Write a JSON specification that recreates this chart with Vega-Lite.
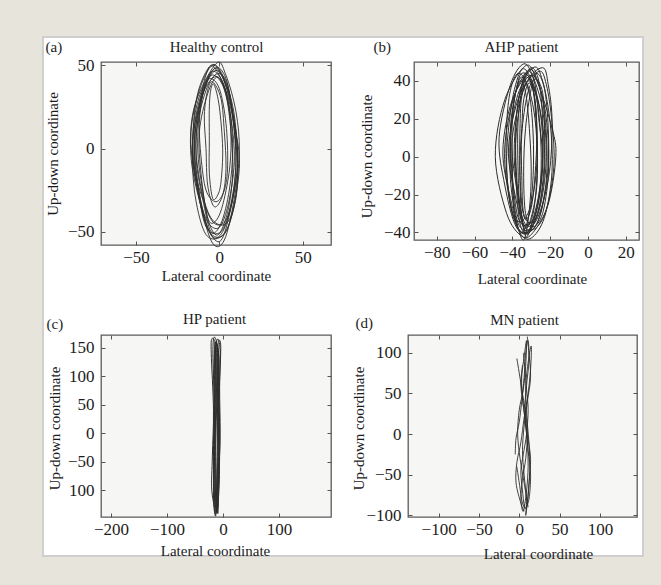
{
  "$schema": "https://vega.github.io/schema/vega-lite/v6.json",
  "background": "#e7e5db",
  "padding": {"left": 43, "top": 37, "right": 18, "bottom": 29},
  "datasets": {
    "a": [
      {"s":1,"i":0,"x":-4,"y":50},{"s":1,"i":1,"x":3,"y":40},{"s":1,"i":2,"x":9,"y":15},{"s":1,"i":3,"x":11,"y":-10},{"s":1,"i":4,"x":6,"y":-40},{"s":1,"i":5,"x":0,"y":-56},{"s":1,"i":6,"x":-8,"y":-45},{"s":1,"i":7,"x":-15,"y":-15},{"s":1,"i":8,"x":-17,"y":10},{"s":1,"i":9,"x":-12,"y":35},
      {"s":2,"i":0,"x":-2,"y":47},{"s":2,"i":1,"x":5,"y":35},{"s":2,"i":2,"x":10,"y":10},{"s":2,"i":3,"x":12,"y":-12},{"s":2,"i":4,"x":7,"y":-42},{"s":2,"i":5,"x":1,"y":-53},{"s":2,"i":6,"x":-7,"y":-48},{"s":2,"i":7,"x":-14,"y":-20},{"s":2,"i":8,"x":-16,"y":5},{"s":2,"i":9,"x":-10,"y":33},
      {"s":3,"i":0,"x":-5,"y":44},{"s":3,"i":1,"x":2,"y":38},{"s":3,"i":2,"x":7,"y":18},{"s":3,"i":3,"x":9,"y":-8},{"s":3,"i":4,"x":5,"y":-35},{"s":3,"i":5,"x":-1,"y":-48},{"s":3,"i":6,"x":-9,"y":-40},{"s":3,"i":7,"x":-14,"y":-12},{"s":3,"i":8,"x":-15,"y":12},{"s":3,"i":9,"x":-11,"y":32},
      {"s":4,"i":0,"x":-3,"y":48},{"s":4,"i":1,"x":4,"y":42},{"s":4,"i":2,"x":8,"y":20},{"s":4,"i":3,"x":10,"y":-5},{"s":4,"i":4,"x":8,"y":-30},{"s":4,"i":5,"x":2,"y":-50},{"s":4,"i":6,"x":-5,"y":-52},{"s":4,"i":7,"x":-12,"y":-28},{"s":4,"i":8,"x":-16,"y":0},{"s":4,"i":9,"x":-13,"y":28},
      {"s":5,"i":0,"x":-6,"y":42},{"s":5,"i":1,"x":0,"y":36},{"s":5,"i":2,"x":4,"y":15},{"s":5,"i":3,"x":5,"y":-10},{"s":5,"i":4,"x":3,"y":-25},{"s":5,"i":5,"x":-2,"y":-32},{"s":5,"i":6,"x":-8,"y":-25},{"s":5,"i":7,"x":-11,"y":-5},{"s":5,"i":8,"x":-12,"y":15},{"s":5,"i":9,"x":-10,"y":32},
      {"s":6,"i":0,"x":-1,"y":45},{"s":6,"i":1,"x":5,"y":38},{"s":6,"i":2,"x":9,"y":12},{"s":6,"i":3,"x":11,"y":-15},{"s":6,"i":4,"x":8,"y":-38},{"s":6,"i":5,"x":2,"y":-46},{"s":6,"i":6,"x":-6,"y":-40},{"s":6,"i":7,"x":-12,"y":-18},{"s":6,"i":8,"x":-14,"y":8},{"s":6,"i":9,"x":-8,"y":35},
      {"s":7,"i":0,"x":-4,"y":40},{"s":7,"i":1,"x":1,"y":30},{"s":7,"i":2,"x":3,"y":10},{"s":7,"i":3,"x":4,"y":-12},{"s":7,"i":4,"x":2,"y":-28},{"s":7,"i":5,"x":-3,"y":-35},{"s":7,"i":6,"x":-7,"y":-22},{"s":7,"i":7,"x":-8,"y":0},{"s":7,"i":8,"x":-9,"y":20},{"s":7,"i":9,"x":-7,"y":35},
      {"s":8,"i":0,"x":-2,"y":51},{"s":8,"i":1,"x":4,"y":44},{"s":8,"i":2,"x":10,"y":22},{"s":8,"i":3,"x":12,"y":-2},{"s":8,"i":4,"x":9,"y":-30},{"s":8,"i":5,"x":3,"y":-55},{"s":8,"i":6,"x":-4,"y":-57},{"s":8,"i":7,"x":-11,"y":-35},{"s":8,"i":8,"x":-17,"y":-5},{"s":8,"i":9,"x":-15,"y":25},
      {"s":9,"i":0,"x":-5,"y":46},{"s":9,"i":1,"x":2,"y":40},{"s":9,"i":2,"x":6,"y":22},{"s":9,"i":3,"x":7,"y":0},{"s":9,"i":4,"x":5,"y":-20},{"s":9,"i":5,"x":0,"y":-40},{"s":9,"i":6,"x":-6,"y":-44},{"s":9,"i":7,"x":-10,"y":-25},{"s":9,"i":8,"x":-13,"y":0},{"s":9,"i":9,"x":-11,"y":28},
      {"s":10,"i":0,"x":-3,"y":43},{"s":10,"i":1,"x":3,"y":37},{"s":10,"i":2,"x":8,"y":18},{"s":10,"i":3,"x":10,"y":-8},{"s":10,"i":4,"x":7,"y":-33},{"s":10,"i":5,"x":1,"y":-50},{"s":10,"i":6,"x":-8,"y":-47},{"s":10,"i":7,"x":-13,"y":-22},{"s":10,"i":8,"x":-15,"y":3},{"s":10,"i":9,"x":-11,"y":30},
      {"s":11,"i":0,"x":-6,"y":49},{"s":11,"i":1,"x":1,"y":42},{"s":11,"i":2,"x":6,"y":25},{"s":11,"i":3,"x":8,"y":0},{"s":11,"i":4,"x":6,"y":-25},{"s":11,"i":5,"x":1,"y":-45},{"s":11,"i":6,"x":-5,"y":-50},{"s":11,"i":7,"x":-10,"y":-30},{"s":11,"i":8,"x":-14,"y":-5},{"s":11,"i":9,"x":-12,"y":25},
      {"s":12,"i":0,"x":-1,"y":43},{"s":12,"i":1,"x":4,"y":32},{"s":12,"i":2,"x":7,"y":10},{"s":12,"i":3,"x":8,"y":-15},{"s":12,"i":4,"x":5,"y":-38},{"s":12,"i":5,"x":-1,"y":-52},{"s":12,"i":6,"x":-7,"y":-42},{"s":12,"i":7,"x":-11,"y":-15},{"s":12,"i":8,"x":-12,"y":10},{"s":12,"i":9,"x":-7,"y":33},
      {"s":13,"i":0,"x":-4,"y":47},{"s":13,"i":1,"x":3,"y":41},{"s":13,"i":2,"x":8,"y":22},{"s":13,"i":3,"x":11,"y":-3},{"s":13,"i":4,"x":9,"y":-25},{"s":13,"i":5,"x":4,"y":-43},{"s":13,"i":6,"x":-3,"y":-45},{"s":13,"i":7,"x":-9,"y":-33},{"s":13,"i":8,"x":-15,"y":-10},{"s":13,"i":9,"x":-13,"y":20},
      {"s":14,"i":0,"x":-3,"y":38},{"s":14,"i":1,"x":0,"y":25},{"s":14,"i":2,"x":2,"y":0},{"s":14,"i":3,"x":1,"y":-20},{"s":14,"i":4,"x":-1,"y":-28},{"s":14,"i":5,"x":-4,"y":-30},{"s":14,"i":6,"x":-6,"y":-15},{"s":14,"i":7,"x":-6,"y":5},{"s":14,"i":8,"x":-6,"y":25},{"s":14,"i":9,"x":-5,"y":36},
      {"s":15,"i":0,"x":-5,"y":50},{"s":15,"i":1,"x":2,"y":44},{"s":15,"i":2,"x":9,"y":20},{"s":15,"i":3,"x":11,"y":-20},{"s":15,"i":4,"x":6,"y":-45},{"s":15,"i":5,"x":-1,"y":-54},{"s":15,"i":6,"x":-9,"y":-50},{"s":15,"i":7,"x":-15,"y":-25},{"s":15,"i":8,"x":-16,"y":5},{"s":15,"i":9,"x":-13,"y":33}
    ],
    "b": [
      {"s":1,"i":0,"x":-33,"y":48},{"s":1,"i":1,"x":-27,"y":40},{"s":1,"i":2,"x":-19,"y":15},{"s":1,"i":3,"x":-17,"y":0},{"s":1,"i":4,"x":-21,"y":-25},{"s":1,"i":5,"x":-29,"y":-40},{"s":1,"i":6,"x":-35,"y":-42},{"s":1,"i":7,"x":-43,"y":-30},{"s":1,"i":8,"x":-49,"y":0},{"s":1,"i":9,"x":-44,"y":30},
      {"s":2,"i":0,"x":-31,"y":46},{"s":2,"i":1,"x":-26,"y":38},{"s":2,"i":2,"x":-22,"y":20},{"s":2,"i":3,"x":-21,"y":-5},{"s":2,"i":4,"x":-25,"y":-30},{"s":2,"i":5,"x":-31,"y":-40},{"s":2,"i":6,"x":-37,"y":-38},{"s":2,"i":7,"x":-42,"y":-20},{"s":2,"i":8,"x":-44,"y":5},{"s":2,"i":9,"x":-39,"y":32},
      {"s":3,"i":0,"x":-35,"y":44},{"s":3,"i":1,"x":-30,"y":40},{"s":3,"i":2,"x":-25,"y":22},{"s":3,"i":3,"x":-24,"y":-5},{"s":3,"i":4,"x":-27,"y":-28},{"s":3,"i":5,"x":-32,"y":-36},{"s":3,"i":6,"x":-37,"y":-32},{"s":3,"i":7,"x":-40,"y":-10},{"s":3,"i":8,"x":-41,"y":15},{"s":3,"i":9,"x":-38,"y":35},
      {"s":4,"i":0,"x":-29,"y":47},{"s":4,"i":1,"x":-24,"y":40},{"s":4,"i":2,"x":-20,"y":18},{"s":4,"i":3,"x":-19,"y":-8},{"s":4,"i":4,"x":-23,"y":-32},{"s":4,"i":5,"x":-30,"y":-43},{"s":4,"i":6,"x":-36,"y":-40},{"s":4,"i":7,"x":-41,"y":-22},{"s":4,"i":8,"x":-45,"y":3},{"s":4,"i":9,"x":-40,"y":30},
      {"s":5,"i":0,"x":-33,"y":42},{"s":5,"i":1,"x":-29,"y":36},{"s":5,"i":2,"x":-27,"y":15},{"s":5,"i":3,"x":-27,"y":-10},{"s":5,"i":4,"x":-29,"y":-30},{"s":5,"i":5,"x":-33,"y":-38},{"s":5,"i":6,"x":-36,"y":-30},{"s":5,"i":7,"x":-38,"y":-5},{"s":5,"i":8,"x":-38,"y":18},{"s":5,"i":9,"x":-36,"y":34},
      {"s":6,"i":0,"x":-26,"y":45},{"s":6,"i":1,"x":-22,"y":38},{"s":6,"i":2,"x":-19,"y":18},{"s":6,"i":3,"x":-18,"y":-5},{"s":6,"i":4,"x":-22,"y":-28},{"s":6,"i":5,"x":-28,"y":-38},{"s":6,"i":6,"x":-34,"y":-36},{"s":6,"i":7,"x":-39,"y":-18},{"s":6,"i":8,"x":-42,"y":5},{"s":6,"i":9,"x":-36,"y":33},
      {"s":7,"i":0,"x":-34,"y":49},{"s":7,"i":1,"x":-29,"y":42},{"s":7,"i":2,"x":-24,"y":25},{"s":7,"i":3,"x":-22,"y":0},{"s":7,"i":4,"x":-25,"y":-25},{"s":7,"i":5,"x":-31,"y":-39},{"s":7,"i":6,"x":-38,"y":-37},{"s":7,"i":7,"x":-44,"y":-15},{"s":7,"i":8,"x":-47,"y":10},{"s":7,"i":9,"x":-41,"y":38},
      {"s":8,"i":0,"x":-31,"y":40},{"s":8,"i":1,"x":-27,"y":30},{"s":8,"i":2,"x":-25,"y":10},{"s":8,"i":3,"x":-25,"y":-12},{"s":8,"i":4,"x":-28,"y":-32},{"s":8,"i":5,"x":-32,"y":-41},{"s":8,"i":6,"x":-35,"y":-32},{"s":8,"i":7,"x":-36,"y":-10},{"s":8,"i":8,"x":-36,"y":12},{"s":8,"i":9,"x":-35,"y":32},
      {"s":9,"i":0,"x":-37,"y":44},{"s":9,"i":1,"x":-32,"y":38},{"s":9,"i":2,"x":-28,"y":20},{"s":9,"i":3,"x":-27,"y":-3},{"s":9,"i":4,"x":-30,"y":-25},{"s":9,"i":5,"x":-35,"y":-34},{"s":9,"i":6,"x":-40,"y":-30},{"s":9,"i":7,"x":-43,"y":-8},{"s":9,"i":8,"x":-43,"y":17},{"s":9,"i":9,"x":-41,"y":35},
      {"s":10,"i":0,"x":-30,"y":43},{"s":10,"i":1,"x":-25,"y":35},{"s":10,"i":2,"x":-22,"y":12},{"s":10,"i":3,"x":-22,"y":-12},{"s":10,"i":4,"x":-26,"y":-33},{"s":10,"i":5,"x":-31,"y":-39},{"s":10,"i":6,"x":-37,"y":-35},{"s":10,"i":7,"x":-40,"y":-15},{"s":10,"i":8,"x":-41,"y":10},{"s":10,"i":9,"x":-37,"y":33},
      {"s":11,"i":0,"x":-32,"y":45},{"s":11,"i":1,"x":-28,"y":38},{"s":11,"i":2,"x":-26,"y":20},{"s":11,"i":3,"x":-24,"y":0},{"s":11,"i":4,"x":-26,"y":-20},{"s":11,"i":5,"x":-30,"y":-36},{"s":11,"i":6,"x":-33,"y":-42},{"s":11,"i":7,"x":-36,"y":-25},{"s":11,"i":8,"x":-39,"y":0},{"s":11,"i":9,"x":-37,"y":28},
      {"s":12,"i":0,"x":-28,"y":41},{"s":12,"i":1,"x":-24,"y":34},{"s":12,"i":2,"x":-23,"y":15},{"s":12,"i":3,"x":-23,"y":-8},{"s":12,"i":4,"x":-26,"y":-28},{"s":12,"i":5,"x":-30,"y":-35},{"s":12,"i":6,"x":-34,"y":-30},{"s":12,"i":7,"x":-35,"y":-10},{"s":12,"i":8,"x":-35,"y":12},{"s":12,"i":9,"x":-32,"y":33},
      {"s":13,"i":0,"x":-35,"y":46},{"s":13,"i":1,"x":-30,"y":41},{"s":13,"i":2,"x":-26,"y":28},{"s":13,"i":3,"x":-23,"y":5},{"s":13,"i":4,"x":-25,"y":-22},{"s":13,"i":5,"x":-30,"y":-38},{"s":13,"i":6,"x":-36,"y":-39},{"s":13,"i":7,"x":-41,"y":-25},{"s":13,"i":8,"x":-43,"y":0},{"s":13,"i":9,"x":-40,"y":30},
      {"s":14,"i":0,"x":-31,"y":39},{"s":14,"i":1,"x":-28,"y":30},{"s":14,"i":2,"x":-27,"y":12},{"s":14,"i":3,"x":-28,"y":-10},{"s":14,"i":4,"x":-30,"y":-27},{"s":14,"i":5,"x":-33,"y":-33},{"s":14,"i":6,"x":-35,"y":-25},{"s":14,"i":7,"x":-36,"y":-5},{"s":14,"i":8,"x":-35,"y":15},{"s":14,"i":9,"x":-34,"y":30},
      {"s":15,"i":0,"x":-24,"y":47},{"s":15,"i":1,"x":-21,"y":38},{"s":15,"i":2,"x":-19,"y":20},{"s":15,"i":3,"x":-20,"y":-5},{"s":15,"i":4,"x":-24,"y":-25},{"s":15,"i":5,"x":-29,"y":-36},{"s":15,"i":6,"x":-34,"y":-34},{"s":15,"i":7,"x":-38,"y":-15},{"s":15,"i":8,"x":-40,"y":10},{"s":15,"i":9,"x":-33,"y":38},
      {"s":16,"i":0,"x":-36,"y":40},{"s":16,"i":1,"x":-33,"y":34},{"s":16,"i":2,"x":-31,"y":15},{"s":16,"i":3,"x":-30,"y":-8},{"s":16,"i":4,"x":-31,"y":-28},{"s":16,"i":5,"x":-34,"y":-44},{"s":16,"i":6,"x":-38,"y":-33},{"s":16,"i":7,"x":-41,"y":-12},{"s":16,"i":8,"x":-41,"y":10},{"s":16,"i":9,"x":-39,"y":30},
      {"s":17,"i":0,"x":-33,"y":44},{"s":17,"i":1,"x":-29,"y":35},{"s":17,"i":2,"x":-27,"y":10},{"s":17,"i":3,"x":-27,"y":-15},{"s":17,"i":4,"x":-30,"y":-32},{"s":17,"i":5,"x":-33,"y":-37},{"s":17,"i":6,"x":-36,"y":-28},{"s":17,"i":7,"x":-37,"y":-5},{"s":17,"i":8,"x":-37,"y":18},{"s":17,"i":9,"x":-35,"y":36},
      {"s":18,"i":0,"x":-30,"y":47},{"s":18,"i":1,"x":-26,"y":40},{"s":18,"i":2,"x":-24,"y":20},{"s":18,"i":3,"x":-24,"y":-5},{"s":18,"i":4,"x":-27,"y":-27},{"s":18,"i":5,"x":-32,"y":-40},{"s":18,"i":6,"x":-36,"y":-35},{"s":18,"i":7,"x":-38,"y":-12},{"s":18,"i":8,"x":-38,"y":12},{"s":18,"i":9,"x":-34,"y":38},
      {"s":19,"i":0,"x":-35,"y":42},{"s":19,"i":1,"x":-31,"y":33},{"s":19,"i":2,"x":-29,"y":12},{"s":19,"i":3,"x":-29,"y":-10},{"s":19,"i":4,"x":-31,"y":-30},{"s":19,"i":5,"x":-35,"y":-40},{"s":19,"i":6,"x":-39,"y":-30},{"s":19,"i":7,"x":-40,"y":-5},{"s":19,"i":8,"x":-40,"y":20},{"s":19,"i":9,"x":-38,"y":35},
      {"s":20,"i":0,"x":-27,"y":44},{"s":20,"i":1,"x":-23,"y":36},{"s":20,"i":2,"x":-21,"y":15},{"s":20,"i":3,"x":-21,"y":-10},{"s":20,"i":4,"x":-24,"y":-30},{"s":20,"i":5,"x":-29,"y":-37},{"s":20,"i":6,"x":-33,"y":-30},{"s":20,"i":7,"x":-34,"y":-8},{"s":20,"i":8,"x":-33,"y":15},{"s":20,"i":9,"x":-30,"y":36}
    ],
    "c": [
      {"s":1,"i":0,"x":-16,"y":168},{"s":1,"i":1,"x":-10,"y":150},{"s":1,"i":2,"x":-8,"y":80},{"s":1,"i":3,"x":-7,"y":0},{"s":1,"i":4,"x":-9,"y":-80},{"s":1,"i":5,"x":-12,"y":-140},{"s":1,"i":6,"x":-16,"y":-100},{"s":1,"i":7,"x":-17,"y":-20},{"s":1,"i":8,"x":-16,"y":60},{"s":1,"i":9,"x":-18,"y":140},
      {"s":2,"i":0,"x":-9,"y":165},{"s":2,"i":1,"x":-5,"y":140},{"s":2,"i":2,"x":-7,"y":60},{"s":2,"i":3,"x":-6,"y":-20},{"s":2,"i":4,"x":-8,"y":-100},{"s":2,"i":5,"x":-11,"y":-138},{"s":2,"i":6,"x":-14,"y":-90},{"s":2,"i":7,"x":-15,"y":-10},{"s":2,"i":8,"x":-14,"y":70},{"s":2,"i":9,"x":-13,"y":145},
      {"s":3,"i":0,"x":-13,"y":160},{"s":3,"i":1,"x":-8,"y":120},{"s":3,"i":2,"x":-9,"y":40},{"s":3,"i":3,"x":-7,"y":-40},{"s":3,"i":4,"x":-10,"y":-120},{"s":3,"i":5,"x":-14,"y":-142},{"s":3,"i":6,"x":-17,"y":-110},{"s":3,"i":7,"x":-15,"y":-30},{"s":3,"i":8,"x":-14,"y":50},{"s":3,"i":9,"x":-15,"y":130},
      {"s":4,"i":0,"x":-20,"y":165},{"s":4,"i":1,"x":-14,"y":155},{"s":4,"i":2,"x":-12,"y":90},{"s":4,"i":3,"x":-10,"y":10},{"s":4,"i":4,"x":-11,"y":-70},{"s":4,"i":5,"x":-13,"y":-130},{"s":4,"i":6,"x":-20,"y":-100},{"s":4,"i":7,"x":-19,"y":-40},{"s":4,"i":8,"x":-17,"y":40},{"s":4,"i":9,"x":-21,"y":140},
      {"s":5,"i":0,"x":-11,"y":150},{"s":5,"i":1,"x":-7,"y":130},{"s":5,"i":2,"x":-8,"y":70},{"s":5,"i":3,"x":-6,"y":-10},{"s":5,"i":4,"x":-7,"y":-90},{"s":5,"i":5,"x":-10,"y":-135},{"s":5,"i":6,"x":-13,"y":-120},{"s":5,"i":7,"x":-14,"y":-40},{"s":5,"i":8,"x":-13,"y":40},{"s":5,"i":9,"x":-12,"y":120},
      {"s":6,"i":0,"x":-14,"y":158},{"s":6,"i":1,"x":-9,"y":145},{"s":6,"i":2,"x":-10,"y":100},{"s":6,"i":3,"x":-8,"y":20},{"s":6,"i":4,"x":-9,"y":-50},{"s":6,"i":5,"x":-11,"y":-125},{"s":6,"i":6,"x":-15,"y":-115},{"s":6,"i":7,"x":-16,"y":-60},{"s":6,"i":8,"x":-15,"y":20},{"s":6,"i":9,"x":-16,"y":110},
      {"s":7,"i":0,"x":-7,"y":162},{"s":7,"i":1,"x":-4,"y":150},{"s":7,"i":2,"x":-6,"y":80},{"s":7,"i":3,"x":-5,"y":0},{"s":7,"i":4,"x":-7,"y":-60},{"s":7,"i":5,"x":-9,"y":-140},{"s":7,"i":6,"x":-12,"y":-100},{"s":7,"i":7,"x":-13,"y":-20},{"s":7,"i":8,"x":-11,"y":60},{"s":7,"i":9,"x":-10,"y":140},
      {"s":8,"i":0,"x":-12,"y":155},{"s":8,"i":1,"x":-8,"y":140},{"s":8,"i":2,"x":-10,"y":60},{"s":8,"i":3,"x":-9,"y":-20},{"s":8,"i":4,"x":-11,"y":-100},{"s":8,"i":5,"x":-13,"y":-145},{"s":8,"i":6,"x":-16,"y":-120},{"s":8,"i":7,"x":-16,"y":-50},{"s":8,"i":8,"x":-15,"y":30},{"s":8,"i":9,"x":-14,"y":120}
    ],
    "d": [
      {"s":1,"i":0,"x":10,"y":120},{"s":1,"i":1,"x":12,"y":100},{"s":1,"i":2,"x":14,"y":70},{"s":1,"i":3,"x":10,"y":40},{"s":1,"i":4,"x":6,"y":10},{"s":1,"i":5,"x":4,"y":-20},{"s":1,"i":6,"x":6,"y":-50},{"s":1,"i":7,"x":9,"y":-80},{"s":1,"i":8,"x":8,"y":-100},{"s":1,"i":9,"x":11,"y":-75},{"s":1,"i":10,"x":13,"y":-45},{"s":1,"i":11,"x":12,"y":-10},{"s":1,"i":12,"x":9,"y":25},{"s":1,"i":13,"x":8,"y":60},{"s":1,"i":14,"x":12,"y":95},{"s":1,"i":15,"x":15,"y":108},{"s":1,"i":16,"x":14,"y":80},{"s":1,"i":17,"x":11,"y":50},{"s":1,"i":18,"x":6,"y":20},{"s":1,"i":19,"x":2,"y":-10},{"s":1,"i":20,"x":-3,"y":-35},{"s":1,"i":21,"x":-4,"y":-60},{"s":1,"i":22,"x":2,"y":-85},{"s":1,"i":23,"x":6,"y":-95},
      {"s":2,"i":0,"x":-3,"y":93},{"s":2,"i":1,"x":0,"y":75},{"s":2,"i":2,"x":4,"y":50},{"s":2,"i":3,"x":8,"y":25},{"s":2,"i":4,"x":10,"y":0},{"s":2,"i":5,"x":8,"y":-30},{"s":2,"i":6,"x":4,"y":-55},{"s":2,"i":7,"x":2,"y":-80},{"s":2,"i":8,"x":5,"y":-95},{"s":2,"i":9,"x":9,"y":-70},{"s":2,"i":10,"x":11,"y":-40},{"s":2,"i":11,"x":10,"y":-10},{"s":2,"i":12,"x":7,"y":20},{"s":2,"i":13,"x":4,"y":45},{"s":2,"i":14,"x":3,"y":70},{"s":2,"i":15,"x":6,"y":95},{"s":2,"i":16,"x":9,"y":115},{"s":2,"i":17,"x":8,"y":85},{"s":2,"i":18,"x":5,"y":55},{"s":2,"i":19,"x":0,"y":30},{"s":2,"i":20,"x":-2,"y":0},{"s":2,"i":21,"x":1,"y":-30},{"s":2,"i":22,"x":6,"y":-60},{"s":2,"i":23,"x":11,"y":-90},
      {"s":3,"i":0,"x":5,"y":100},{"s":3,"i":1,"x":7,"y":80},{"s":3,"i":2,"x":9,"y":55},{"s":3,"i":3,"x":11,"y":30},{"s":3,"i":4,"x":9,"y":0},{"s":3,"i":5,"x":5,"y":-25},{"s":3,"i":6,"x":2,"y":-45},{"s":3,"i":7,"x":4,"y":-70},{"s":3,"i":8,"x":7,"y":-90},{"s":3,"i":9,"x":12,"y":-80},{"s":3,"i":10,"x":14,"y":-50},{"s":3,"i":11,"x":11,"y":-20},{"s":3,"i":12,"x":8,"y":10},{"s":3,"i":13,"x":5,"y":35},{"s":3,"i":14,"x":2,"y":60},{"s":3,"i":15,"x":4,"y":85},
      {"s":4,"i":0,"x":-5,"y":-25},{"s":4,"i":1,"x":-4,"y":-5},{"s":4,"i":2,"x":0,"y":15},{"s":4,"i":3,"x":3,"y":40},{"s":4,"i":4,"x":6,"y":70},{"s":4,"i":5,"x":8,"y":100},{"s":4,"i":6,"x":11,"y":115},{"s":4,"i":7,"x":12,"y":90},{"s":4,"i":8,"x":9,"y":60},{"s":4,"i":9,"x":7,"y":30},{"s":4,"i":10,"x":10,"y":0},{"s":4,"i":11,"x":14,"y":-30},{"s":4,"i":12,"x":12,"y":-60},{"s":4,"i":13,"x":9,"y":-90},{"s":4,"i":14,"x":4,"y":-85},{"s":4,"i":15,"x":0,"y":-60},{"s":4,"i":16,"x":-3,"y":-40}
    ]
  },
  "config": {
    "group": {"fill": "white", "stroke": "#cfcfcf", "strokeWidth": 2},
    "width": 600,
    "height": 519,
    "view": {"fill": "#f6f6f5", "stroke": "#5a5a5a", "strokeWidth": 1.3},
    "line": {"stroke": "#2e2e2e", "strokeWidth": 0.9},
    "axis": {
      "labelFont": "Liberation Serif", "labelFontSize": 17, "labelColor": "#1c1c1c",
      "titleFont": "Liberation Serif", "titleFontSize": 15, "titleFontWeight": "normal", "titleColor": "#1c1c1c",
      "domain": false, "grid": false, "ticks": true, "tickSize": -4, "tickColor": "#555555", "tickWidth": 1
    },
    "axisX": {"labelPadding": 8},
    "axisY": {"labelPadding": 11}
  },
  "spacing": 0,
  "vconcat": [
    {"width": 1, "height": 1, "data": {"values": []}, "mark": "point", "view": {"fill": null, "stroke": null}},
    {
      "spacing": 0,
      "hconcat": [
        {"width": 1, "height": 1, "data": {"values": []}, "mark": "point", "view": {"fill": null, "stroke": null}},
        {
          "spacing": 23,
          "vconcat": [
            {
              "spacing": 25,
              "hconcat": [
                {
                  "width": 230, "height": 183,
                  "data": {"name": "a"},
                  "layer": [
                    {
                      "mark": {"type": "line", "interpolate": "cardinal-closed"},
                      "encoding": {
                        "x": {"field": "x", "type": "quantitative", "scale": {"domain": [-71, 67], "nice": false, "zero": false}, "axis": {"orient": "bottom", "values": [-50, 0, 50], "title": "Lateral coordinate", "titleY": 35, "titleBaseline": "alphabetic"}},
                        "y": {"field": "y", "type": "quantitative", "scale": {"domain": [-58, 52], "nice": false, "zero": false}, "axis": {"orient": "left", "values": [-50, 0, 50], "title": "Up-down coordinate", "titleX": -44, "titleBaseline": "alphabetic"}},
                        "detail": {"field": "s", "type": "nominal"},
                        "order": {"field": "i", "type": "quantitative"}
                      }
                    },
                    {
                      "transform": [{"filter": "datum.s == 1 && datum.i == 0"}],
                      "mark": {"type": "point", "opacity": 0},
                      "encoding": {
                        "x": {"field": "x", "type": "quantitative", "scale": {"domain": [-71, 67], "nice": false, "zero": false}, "axis": {"orient": "top", "values": [-50, 0, 50], "labels": false, "title": "Healthy control", "titleY": -11, "titleBaseline": "alphabetic"}},
                        "y": {"field": "y", "type": "quantitative", "scale": {"domain": [-58, 52], "nice": false, "zero": false}, "axis": {"orient": "right", "values": [-50, 0, 50], "labels": false, "title": "(a)", "titleAngle": 0, "titleX": -286, "titleY": -11, "titleAlign": "left", "titleBaseline": "alphabetic"}}
                      }
                    }
                  ],
                  "resolve": {"axis": {"x": "independent", "y": "independent"}}
                },
                {
                  "width": 225, "height": 178,
                  "data": {"name": "b"},
                  "layer": [
                    {
                      "mark": {"type": "line", "interpolate": "cardinal-closed", "strokeWidth": 1},
                      "encoding": {
                        "x": {"field": "x", "type": "quantitative", "scale": {"domain": [-92, 27], "nice": false, "zero": false}, "axis": {"orient": "bottom", "values": [-80, -60, -40, -20, 0, 20], "title": "Lateral coordinate", "titleX": 118, "titleY": 43, "titleBaseline": "alphabetic"}},
                        "y": {"field": "y", "type": "quantitative", "scale": {"domain": [-44, 50], "nice": false, "zero": false}, "axis": {"orient": "left", "values": [-40, -20, 0, 20, 40], "labelPadding": 8, "title": "Up-down coordinate", "titleX": -43, "titleY": 94, "titleBaseline": "alphabetic"}},
                        "detail": {"field": "s", "type": "nominal"},
                        "order": {"field": "i", "type": "quantitative"}
                      }
                    },
                    {
                      "transform": [{"filter": "datum.s == 1 && datum.i == 0"}],
                      "mark": {"type": "point", "opacity": 0},
                      "encoding": {
                        "x": {"field": "x", "type": "quantitative", "scale": {"domain": [-92, 27], "nice": false, "zero": false}, "axis": {"orient": "top", "values": [-80, -60, -40, -20, 0, 20], "labels": false, "title": "AHP patient", "titleX": 107, "titleY": -11, "titleAlign": "center", "titleBaseline": "alphabetic"}},
                        "y": {"field": "y", "type": "quantitative", "scale": {"domain": [-44, 50], "nice": false, "zero": false}, "axis": {"orient": "right", "values": [-40, -20, 0, 20, 40], "labels": false, "title": "(b)", "titleAngle": 0, "titleX": -266, "titleY": -11, "titleAlign": "left", "titleBaseline": "alphabetic"}}
                      }
                    }
                  ],
                  "resolve": {"axis": {"x": "independent", "y": "independent"}}
                }
              ]
            },
            {
              "spacing": 17,
              "hconcat": [
                {
                  "width": 230, "height": 182,
                  "data": {"name": "c"},
                  "layer": [
                    {
                      "mark": {"type": "line", "interpolate": "cardinal-closed", "strokeWidth": 1},
                      "encoding": {
                        "x": {"field": "x", "type": "quantitative", "scale": {"domain": [-218, 193], "nice": false, "zero": false}, "axis": {"orient": "bottom", "values": [-200, -100, 0, 100], "title": "Lateral coordinate", "titleX": 114, "titleY": 38, "titleBaseline": "alphabetic"}},
                        "y": {"field": "y", "type": "quantitative", "scale": {"domain": [-147, 172], "nice": false, "zero": false}, "axis": {"orient": "left", "values": [-100, -50, 0, 50, 100, 150], "labelExpr": "datum.value === -100 ? '100' : datum.label", "title": "Up-down coordinate", "titleX": -42, "titleY": 93, "titleBaseline": "alphabetic"}},
                        "detail": {"field": "s", "type": "nominal"},
                        "order": {"field": "i", "type": "quantitative"}
                      }
                    },
                    {
                      "transform": [{"filter": "datum.s == 1 && datum.i == 0"}],
                      "mark": {"type": "point", "opacity": 0},
                      "encoding": {
                        "x": {"field": "x", "type": "quantitative", "scale": {"domain": [-218, 193], "nice": false, "zero": false}, "axis": {"orient": "top", "values": [-200, -100, 0, 100], "labels": false, "title": "HP patient", "titleX": 113, "titleY": -12, "titleAlign": "center", "titleBaseline": "alphabetic"}},
                        "y": {"field": "y", "type": "quantitative", "scale": {"domain": [-147, 172], "nice": false, "zero": false}, "axis": {"orient": "right", "values": [-100, -50, 0, 50, 100, 150], "labels": false, "title": "(c)", "titleAngle": 0, "titleX": -285, "titleY": -7, "titleAlign": "left", "titleBaseline": "alphabetic"}}
                      }
                    }
                  ],
                  "resolve": {"axis": {"x": "independent", "y": "independent"}}
                },
                {
                  "width": 229, "height": 182,
                  "data": {"name": "d"},
                  "layer": [
                    {
                      "mark": {"type": "line", "interpolate": "cardinal"},
                      "encoding": {
                        "x": {"field": "x", "type": "quantitative", "scale": {"domain": [-138, 146], "nice": false, "zero": false}, "axis": {"orient": "bottom", "values": [-100, -50, 0, 50, 100], "title": "Lateral coordinate", "titleX": 130, "titleY": 41, "titleBaseline": "alphabetic"}},
                        "y": {"field": "y", "type": "quantitative", "scale": {"domain": [-102, 122], "nice": false, "zero": false}, "axis": {"orient": "left", "values": [-100, -50, 0, 50, 100], "title": "Up-down coordinate", "titleX": -45, "titleY": 93, "titleBaseline": "alphabetic"}},
                        "detail": {"field": "s", "type": "nominal"},
                        "order": {"field": "i", "type": "quantitative"}
                      }
                    },
                    {
                      "transform": [{"filter": "datum.s == 1 && datum.i == 0"}],
                      "mark": {"type": "point", "opacity": 0},
                      "encoding": {
                        "x": {"field": "x", "type": "quantitative", "scale": {"domain": [-138, 146], "nice": false, "zero": false}, "axis": {"orient": "top", "values": [-100, -50, 0, 50, 100], "labels": false, "title": "MN patient", "titleX": 116, "titleY": -11, "titleAlign": "center", "titleBaseline": "alphabetic"}},
                        "y": {"field": "y", "type": "quantitative", "scale": {"domain": [-102, 122], "nice": false, "zero": false}, "axis": {"orient": "right", "values": [-100, -50, 0, 50, 100], "labels": false, "title": "(d)", "titleAngle": 0, "titleX": -282, "titleY": -8, "titleAlign": "left", "titleBaseline": "alphabetic"}}
                      }
                    }
                  ],
                  "resolve": {"axis": {"x": "independent", "y": "independent"}}
                }
              ]
            }
          ]
        }
      ]
    }
  ]
}
